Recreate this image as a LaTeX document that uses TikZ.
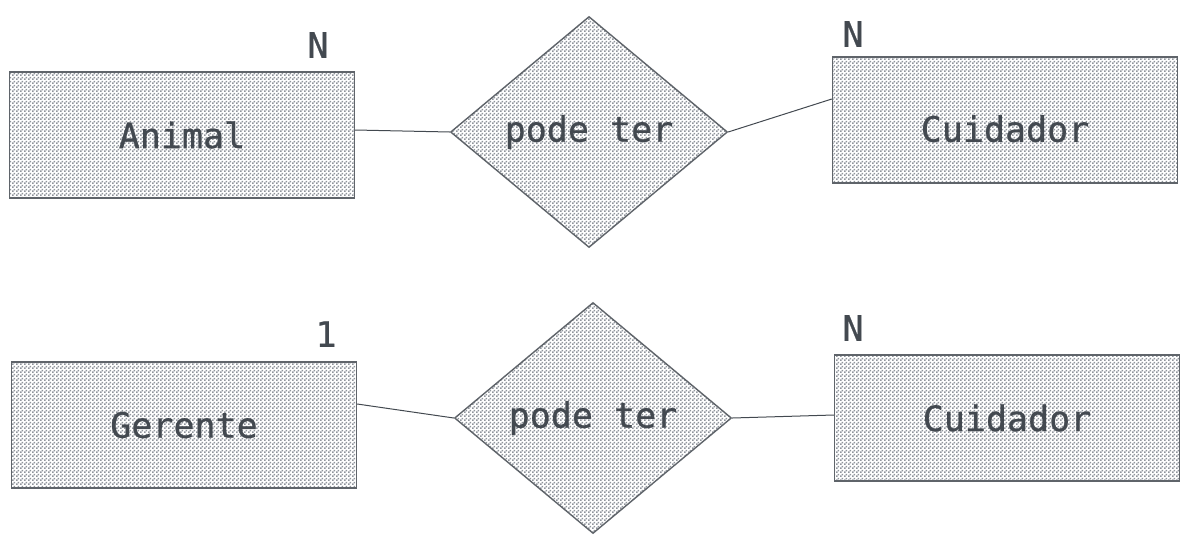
\documentclass[tikz,border=0pt]{standalone}
\usepackage{fontspec}
\setmonofont{DejaVu Sans Mono}[FakeBold=0.7]
\usetikzlibrary{shapes.geometric,patterns.meta,calc}
\definecolor{inkgray}{HTML}{434950}
\definecolor{hatchgray}{HTML}{8F949B}
\tikzdeclarepattern{
  name=erchecks,
  type=uncolored,
  bottom left={(0pt,0pt)},
  top right={(4pt,4pt)},
  tile size={(4pt,4pt)},
  code={
    \fill (0pt,0pt) rectangle (2pt,2pt);
    \fill (2pt,2pt) rectangle (4pt,4pt);
  }
}
\tikzset{
every node/.style={font=\ttfamily\fontsize{35}{38}\selectfont,text=inkgray},
entity/.style={draw=inkgray!85,line width=1.4pt,pattern=erchecks,pattern color=hatchgray,
  minimum width=345pt,minimum height=126pt,inner sep=0pt},
relation/.style={diamond,draw=inkgray!85,line width=1.4pt,pattern=erchecks,pattern color=hatchgray,
  minimum width=277pt,minimum height=231pt,inner sep=0pt},
card/.style={inner sep=0pt},
link/.style={draw=inkgray,line width=1pt}
}

\begin{document}
\begin{tikzpicture}[x=1pt,y=-1pt]
   \useasboundingbox (0,0) rectangle (1190,544);
   % top relationship
   \node[entity]   (an1) at (182,135) {Animal};
   \node[relation] (pt1) at (589,132) {pode ter};
   \node[entity,text height=44pt] (cu1) at (1005,120) {Cuidador};
   \node[card] (c11) at (318,45) {N};
   \node[card] (c12) at (853,34) {N};
   % bottom relationship
   \node[entity]   (ge2) at (184,425) {Gerente};
   \node[relation] (pt2) at (593,418) {pode ter};
   \node[entity]   (cu2) at (1007,418) {Cuidador};
   \node[card] (c21) at (326,334) {1};
   \node[card] (c22) at (853,328) {N};
   \path[link]
    ($(an1.east)+(0,-5)$) -- (pt1.west)
    (pt1.east) -- ($(cu1.west)+(0,-21)$)
    ($(ge2.east)+(0,-21)$) -- (pt2.west)
    (pt2.east) -- ($(cu2.west)+(0,-3)$);
\end{tikzpicture}
\end{document}
